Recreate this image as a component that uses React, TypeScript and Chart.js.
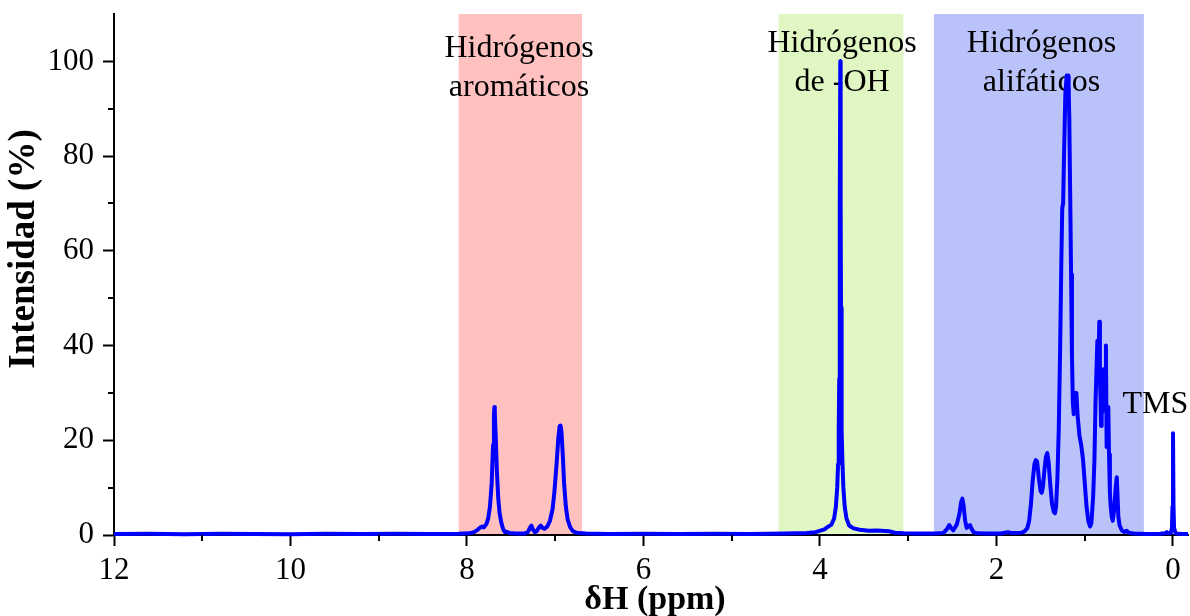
import React, { useEffect, useRef } from "react";
import { Chart, registerables } from "chart.js";

Chart.register(...registerables);

// Spectrum (chemical shift in ppm, relative intensity in %)
const PPM = [
  12.0, 11.6, 11.2, 10.8, 10.4, 10.0, 9.6, 9.2, 8.8, 8.4, 8.1,
  7.98, 7.92, 7.88, 7.85, 7.83, 7.81, 7.78, 7.76, 7.74, 7.72, 7.705, 7.695, 7.69, 7.685, 7.675, 7.66, 7.645, 7.63, 7.61, 7.59, 7.57, 7.55, 7.52, 7.45,
  7.35, 7.31, 7.285, 7.27, 7.255, 7.23, 7.21, 7.185, 7.165, 7.145, 7.12, 7.09, 7.06, 7.03, 7.01, 6.985, 6.965, 6.95, 6.94, 6.93, 6.915, 6.9, 6.88, 6.86, 6.83, 6.8, 6.76, 6.72, 6.65,
  6.4, 6.0, 5.6, 5.2, 4.8, 4.4, 4.15, 4.05, 3.95, 3.92, 3.87, 3.84, 3.82, 3.805, 3.795, 3.788, 3.782, 3.778, 3.774, 3.77, 3.766, 3.762, 3.758, 3.752, 3.745, 3.735, 3.72, 3.7, 3.67, 3.62, 3.55, 3.45, 3.35, 3.22, 3.15, 3.05, 2.9,
  2.7, 2.6, 2.56, 2.535, 2.515, 2.49, 2.45, 2.42, 2.4, 2.387, 2.375, 2.355, 2.338, 2.315, 2.3, 2.285, 2.26, 2.22, 2.1, 1.95, 1.87, 1.83, 1.72,
  1.68, 1.65, 1.63, 1.61, 1.59, 1.57, 1.555, 1.54, 1.52, 1.5, 1.488, 1.475, 1.455, 1.44, 1.425, 1.41, 1.39, 1.37, 1.35, 1.337, 1.325, 1.31, 1.295, 1.28, 1.265, 1.255, 1.245, 1.235, 1.22, 1.205, 1.195, 1.185, 1.175, 1.165, 1.155, 1.145, 1.135, 1.125, 1.115, 1.105, 1.095, 1.08, 1.06, 1.04, 1.02, 1.0, 0.98, 0.96, 0.94,
  0.925, 0.905, 0.89, 0.878, 0.865, 0.857, 0.85, 0.843, 0.835, 0.828, 0.82, 0.815, 0.808, 0.8, 0.79, 0.78, 0.77, 0.76, 0.752, 0.742, 0.733, 0.725, 0.715, 0.706, 0.695, 0.683, 0.668, 0.65, 0.637, 0.628, 0.619, 0.605, 0.58, 0.55, 0.525, 0.505, 0.45,
  0.3, 0.15, 0.09, 0.07, 0.055, 0.025, 0.012, 0.006, 0.0, -0.006, -0.012, -0.03, -0.1, -0.17,
];
const INTENSITY = [
  0.2, 0.25, 0.15, 0.25, 0.2, 0.15, 0.25, 0.2, 0.25, 0.2, 0.25,
  0.35, 0.6, 1.1, 1.6, 1.8, 1.6, 2.3, 3.5, 6, 11, 19, 25, 27, 26, 21, 13, 7.5, 4.5, 2.5, 1.2, 0.6, 0.7, 0.4, 0.3,
  0.3, 0.6, 1.6, 2.0, 1.2, 0.6, 0.8, 1.6, 2.0, 1.5, 1.3, 1.8, 3, 5.5, 9, 15, 20.5, 23, 23.1, 22, 17, 11, 6, 3.3, 1.6, 0.8, 0.5, 0.4, 0.3,
  0.2, 0.25, 0.2, 0.25, 0.2, 0.3, 0.4, 0.6, 1.2, 1.6, 2.2, 3.5, 6, 10, 15, 22, 33, 48, 70, 100, 70, 48, 33, 22, 15, 10, 6, 3.5, 2.0, 1.4, 1.1, 0.9, 0.95, 0.8, 0.5, 0.35, 0.3,
  0.3, 0.45, 1.3, 2.1, 1.5, 1.0, 2.2, 4.5, 7, 7.7, 6.5, 3.0, 1.5, 1.9, 2.1, 1.4, 0.6, 0.35, 0.3, 0.3, 0.6, 0.4, 0.45,
  0.8, 1.5, 3, 6.5, 11.5, 15, 15.8, 15.5, 12, 9.3, 8.9, 10, 14, 16.5, 17.3, 15.5, 10.5, 6.5, 4.8, 4.6, 6, 12, 22, 38, 58, 69, 70, 80, 93, 97, 94, 97, 88, 72, 55, 38, 28, 25.5, 30, 28, 30, 25, 21, 19, 16, 11, 6, 3, 1.8,
  2.5, 8, 16, 28, 36, 41, 34, 38, 45, 33, 28, 23, 30, 26, 35, 28, 34, 40, 18.6, 24, 27, 17, 9, 6, 4, 3, 5, 10, 12.2, 8, 3.8, 2, 1, 0.6, 0.9, 0.5, 0.3,
  0.2, 0.25, 0.35, 0.6, 0.35, 0.4, 1.5, 6, 21.5, 6, 1.5, 0.3, 0.2, 0.2,
];

const X_MAJOR_TICKS = [12, 10, 8, 6, 4, 2, 0];
const X_MINOR_TICKS = [11, 9, 7, 5, 3, 1];
const Y_MAJOR_TICKS = [0, 20, 40, 60, 80, 100];
const Y_MINOR_TICKS = [10, 30, 50, 70, 90];

const REGION_FROM = [8.094, 4.47, 2.709];
const REGION_TO = [6.697, 3.057, 0.33];
const REGION_COLORS = ["rgb(255,192,192)", "rgb(224,247,196)", "rgb(186,194,250)"];

const LABEL_LINES = [
  ["Hidrógenos", "aromáticos"],
  ["Hidrógenos", "de -OH"],
  ["Hidrógenos", "alifáticos"],
  ["TMS"],
];
const LABEL_X = [7.41, 3.75, 1.49, 0.2];
const LABEL_Y = [101, 101.9, 101.9, 25.7];

const X_TITLE = "δH (ppm)";
const Y_TITLE = "Intensidad (%)";

const SERIF = '"Liberation Serif", "Times New Roman", serif';

const decorPlugin = {
  id: "decor",
  beforeDraw(chart: any) {
    const { ctx, chartArea, scales } = chart;
    const x = scales.x;
    ctx.save();
    REGION_FROM.forEach((f, i) => {
      const x1 = x.getPixelForValue(f);
      const x2 = x.getPixelForValue(REGION_TO[i]);
      ctx.fillStyle = REGION_COLORS[i];
      ctx.fillRect(Math.min(x1, x2), chartArea.top, Math.abs(x2 - x1), chartArea.bottom - chartArea.top);
    });
    ctx.restore();
  },
  beforeDatasetsDraw(chart: any) {
    const { ctx, scales } = chart;
    ctx.save();
    ctx.fillStyle = "#000";
    ctx.font = `32px ${SERIF}`;
    ctx.textAlign = "center";
    ctx.textBaseline = "alphabetic";
    LABEL_LINES.forEach((lines, i) => {
      const px = scales.x.getPixelForValue(LABEL_X[i]);
      const py = scales.y.getPixelForValue(LABEL_Y[i]);
      lines.forEach((t, j) => ctx.fillText(t, px, py + j * 39));
    });
    ctx.restore();
  },
  afterDraw(chart: any) {
    const { ctx, chartArea, scales } = chart;
    ctx.save();
    ctx.strokeStyle = "#000";
    ctx.lineWidth = 2;
    ctx.beginPath();
    X_MINOR_TICKS.forEach((v) => {
      const px = Math.round(scales.x.getPixelForValue(v));
      ctx.moveTo(px, chartArea.bottom);
      ctx.lineTo(px, chartArea.bottom + 6);
    });
    Y_MINOR_TICKS.forEach((v) => {
      const py = Math.round(scales.y.getPixelForValue(v));
      ctx.moveTo(chartArea.left, py);
      ctx.lineTo(chartArea.left - 6, py);
    });
    ctx.stroke();

    ctx.fillStyle = "#000";
    ctx.font = `bold 34px ${SERIF}`;
    ctx.textAlign = "center";
    ctx.textBaseline = "alphabetic";
    ctx.fillText(X_TITLE, 655, 609);

    ctx.font = `bold 37px ${SERIF}`;
    ctx.translate(24, 249);
    ctx.rotate(-Math.PI / 2);
    ctx.textBaseline = "middle";
    ctx.fillText(Y_TITLE, 0, 0);
    ctx.restore();
  },
};

export default function App() {
  const canvasRef = useRef<HTMLCanvasElement | null>(null);

  useEffect(() => {
    document.body.style.margin = "0";
    const canvas = canvasRef.current;
    if (!canvas) return;
    const points = PPM.map((p, i) => ({ x: p, y: INTENSITY[i] }));
    const chart = new Chart(canvas, {
      type: "line",
      data: {
        datasets: [
          {
            data: points,
            borderColor: "#0000FF",
            borderWidth: 4,
            pointRadius: 0,
            tension: 0,
            fill: false,
            borderJoinStyle: "round",
            clip: false as any,
          },
        ],
      },
      options: {
        responsive: false,
        animation: false,
        devicePixelRatio: 1,
        layout: { padding: { top: 14, right: 2, left: 0, bottom: 0 } },
        plugins: { legend: { display: false }, tooltip: { enabled: false } },
        scales: {
          x: {
            type: "linear",
            reverse: true,
            min: -0.17,
            max: 12,
            afterBuildTicks: (scale: any) => {
              scale.ticks = X_MAJOR_TICKS.map((v) => ({ value: v }));
            },
            afterFit: (scale: any) => {
              scale.height = 81;
              scale.paddingLeft = 0;
              scale.paddingRight = 0;
            },
            grid: {
              display: true,
              drawOnChartArea: false,
              drawTicks: true,
              tickLength: 11,
              tickWidth: 2,
              tickColor: "#000",
            },
            border: { display: true, color: "#000", width: 2 },
            ticks: {
              color: "#000",
              font: { family: SERIF, size: 31 },
              padding: 6,
              maxRotation: 0,
              autoSkip: false,
            },
          },
          y: {
            type: "linear",
            min: 0,
            max: 110,
            afterBuildTicks: (scale: any) => {
              scale.ticks = Y_MAJOR_TICKS.map((v) => ({ value: v }));
            },
            afterFit: (scale: any) => {
              scale.width = 114;
              scale.paddingTop = 0;
              scale.paddingBottom = 0;
            },
            grid: {
              display: true,
              drawOnChartArea: false,
              drawTicks: true,
              tickLength: 11,
              tickWidth: 2,
              tickColor: "#000",
            },
            border: { display: true, color: "#000", width: 2 },
            ticks: {
              color: "#000",
              font: { family: SERIF, size: 31 },
              padding: 9,
              autoSkip: false,
            },
          },
        },
      },
      plugins: [decorPlugin],
    });
    return () => chart.destroy();
  }, []);

  return (
    <div style={{ position: "absolute", left: 0, top: 0, width: 1190, height: 616, background: "#fff" }}>
      <canvas ref={canvasRef} width={1190} height={616} style={{ display: "block" }} />
    </div>
  );
}
